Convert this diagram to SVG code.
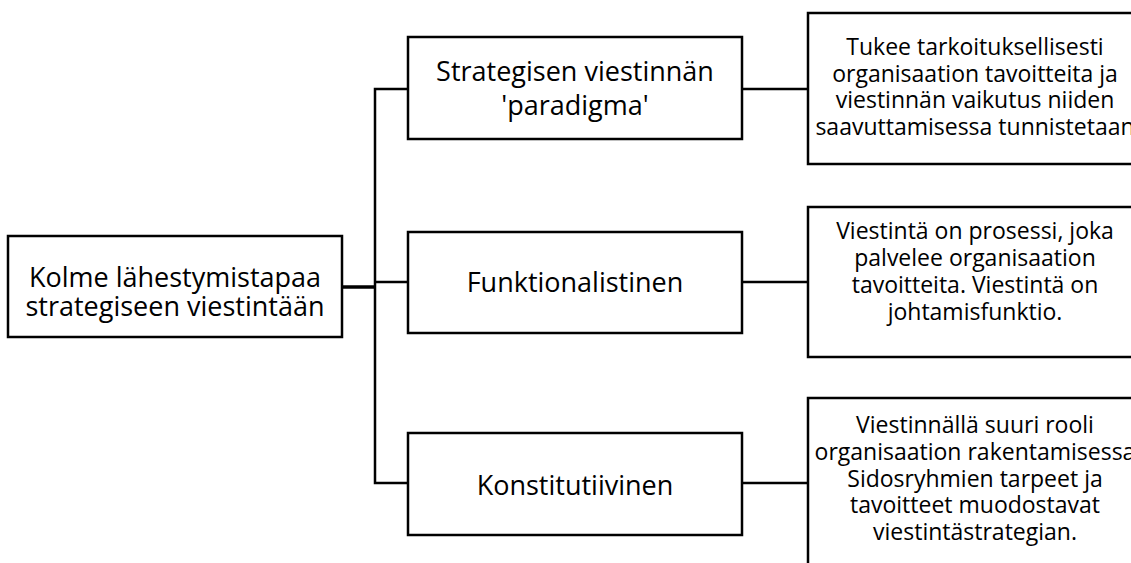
<svg xmlns="http://www.w3.org/2000/svg" width="1131" height="563" viewBox="0 0 1131 563">
<style>
.box{fill:#fff;stroke:#000;stroke-width:2.5}
.ln{fill:none;stroke:#000;stroke-width:2.5}
.t{font-family:"Open Sans","Noto Sans",sans-serif;fill:#000;text-anchor:middle}
.big{font-size:27px}
.sm{font-size:23px}
</style>
<rect width="1131" height="563" fill="#fff"/>
<g id="connectors">
<line class="ln" x1="342" y1="287" x2="376" y2="287" style="stroke-width:3.5"/>
<polyline class="ln" points="408,89 375,89 375,483 408,483"/>
<line class="ln" x1="375" y1="282" x2="408" y2="282"/>
<line class="ln" x1="742" y1="89" x2="808" y2="89"/>
<line class="ln" x1="742" y1="282" x2="808" y2="282"/>
<line class="ln" x1="742" y1="483" x2="808" y2="483"/>
</g>
<g id="root">
<rect class="box" x="8" y="236" width="334" height="101"/>
<text class="t big" x="175" y="287">Kolme lähestymistapaa<tspan x="175" dy="29">strategiseen viestintään</tspan></text>
</g>
<g id="strategisen">
<rect class="box" x="408" y="37" width="334" height="102"/>
<text class="t big" x="575" y="81">Strategisen viestinnän<tspan x="575" dy="34">'paradigma'</tspan></text>
</g>
<g id="funktionalistinen">
<rect class="box" x="408" y="232" width="334" height="101"/>
<text class="t big" x="575" y="292">Funktionalistinen</text>
</g>
<g id="konstitutiivinen">
<rect class="box" x="408" y="433" width="334" height="102"/>
<text class="t big" x="575" y="495">Konstitutiivinen</text>
</g>
<g id="desc1">
<rect class="box" x="808" y="13" width="340" height="151"/>
<text class="t sm" x="975" y="55">Tukee tarkoituksellisesti<tspan x="975" dy="26.7">organisaation tavoitteita ja</tspan><tspan x="975" dy="26.7">viestinnän vaikutus niiden</tspan><tspan x="975" dy="26.7">saavuttamisessa tunnistetaan</tspan></text>
</g>
<g id="desc2">
<rect class="box" x="808" y="207" width="340" height="150"/>
<text class="t sm" x="975" y="239">Viestintä on prosessi, joka<tspan x="975" dy="27">palvelee organisaation</tspan><tspan x="975" dy="27">tavoitteita. Viestintä on</tspan><tspan x="975" dy="27">johtamisfunktio.</tspan></text>
</g>
<g id="desc3">
<rect class="box" x="808" y="398" width="340" height="190"/>
<text class="t sm" x="975" y="433">Viestinnällä suuri rooli<tspan x="975" dy="26.8">organisaation rakentamisessa</tspan><tspan x="975" dy="26.8">Sidosryhmien tarpeet ja</tspan><tspan x="975" dy="26.8">tavoitteet muodostavat</tspan><tspan x="975" dy="26.8">viestintästrategian.</tspan></text>
</g>
</svg>
